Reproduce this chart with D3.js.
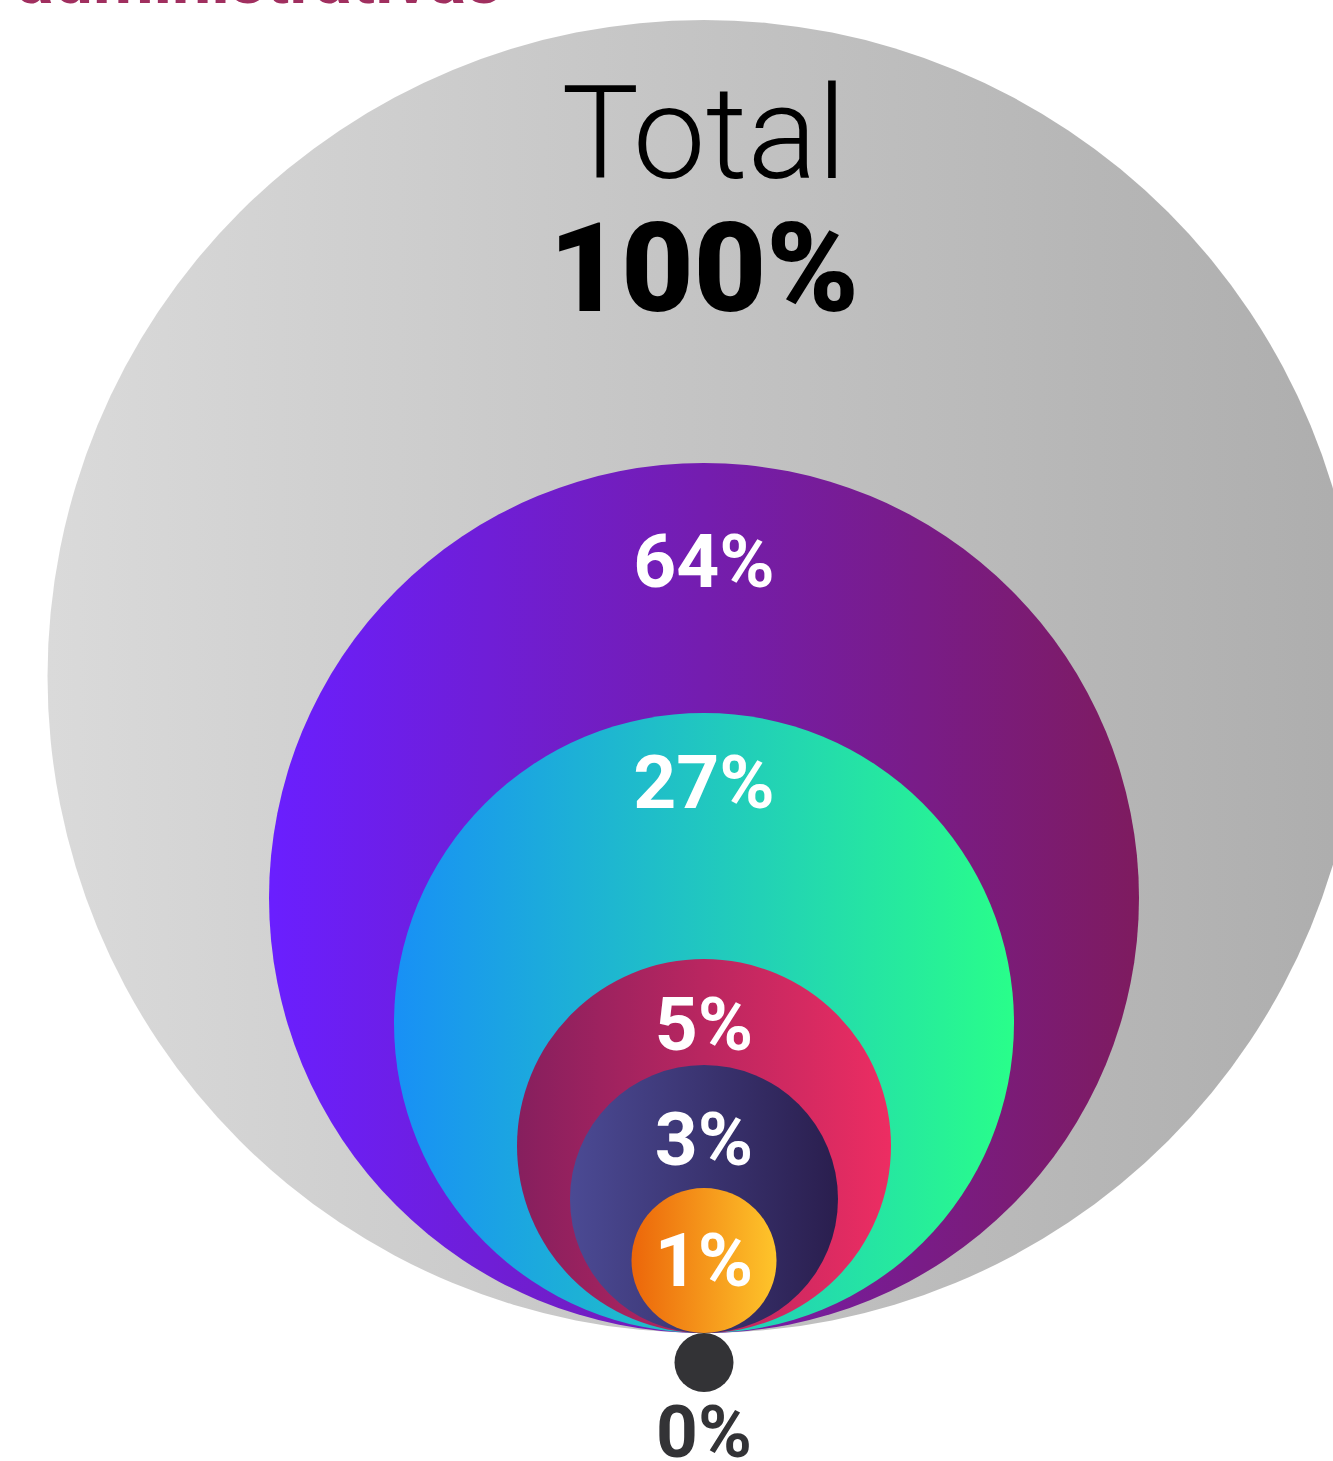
<!DOCTYPE html>
<html>
<head>
<meta charset="utf-8">
<script src="https://cdn.jsdelivr.net/npm/d3@7/dist/d3.min.js"></script>
<style>
  html, body { margin: 0; padding: 0; background: #ffffff; overflow: hidden; }
  svg { display: block; }
  text { font-family: Roboto, "Noto Sans", sans-serif; }
</style>
</head>
<body>
<svg id="chart" width="1333" height="1461"></svg>
<script>
// ---- Data ----
const title = "administrativas";
const categories = ["Total", "Nivel 1", "Nivel 2", "Nivel 3", "Nivel 4", "Nivel 5", "Nivel 6"];
const values = [100, 64, 27, 5, 3, 1, 0];
const labels = ["100%", "64%", "27%", "5%", "3%", "1%", "0%"];
const colorStart = ["#dadada", "#6a1fff", "#1890f6", "#861f5e", "#4b4a94", "#ec660a", "#333336"];
const colorEnd   = ["#adadad", "#7e1b5f", "#29fe8a", "#ed2d62", "#2a1e4e", "#fec52b", "#333336"];

// ---- Layout ----
const svg = d3.select("#chart");
const cx = 704, tangentY = 1333;

// radius scale (piecewise, by value)
const rScale = d3.scaleLinear()
  .domain([0, 1, 3, 5, 27, 64, 100])
  .range([29.5, 72.5, 134, 187, 310, 435, 656.5]);

const defs = svg.append("defs");
values.forEach((v, i) => {
  const r = rScale(v);
  const g = defs.append("linearGradient")
    .attr("id", "grad" + i)
    .attr("gradientUnits", "userSpaceOnUse")
    .attr("x1", cx - r).attr("x2", cx + r)
    .attr("y1", 0).attr("y2", 0);
  g.append("stop").attr("offset", "0%").attr("stop-color", colorStart[i]);
  g.append("stop").attr("offset", "100%").attr("stop-color", colorEnd[i]);
});

// title (cut at top)
svg.append("text")
  .attr("x", 502).attr("y", 3)
  .attr("text-anchor", "end")
  .attr("font-size", 70)
  .attr("font-weight", 700)
  .attr("fill", "#a02f5f")
  .text(title);

const data = values.map((v, i) => ({ v, i, label: labels[i], cat: categories[i] }));

// nested circles (all but zero value) tangent at bottom
const nested = data.filter(d => d.v > 0);
svg.selectAll("circle.nest")
  .data(nested)
  .join("circle")
  .attr("class", "nest")
  .attr("cx", cx)
  .attr("cy", d => tangentY - rScale(d.v))
  .attr("r", d => rScale(d.v))
  .attr("fill", d => `url(#grad${d.i})`);

// zero dot below
const zero = data.filter(d => d.v === 0);
svg.selectAll("circle.zero")
  .data(zero)
  .join("circle")
  .attr("class", "zero")
  .attr("cx", cx)
  .attr("cy", d => tangentY + rScale(d.v))
  .attr("r", d => rScale(d.v))
  .attr("fill", d => colorStart[d.i]);

// labels
const labelOffset = [0, 124, 95, 91, 100, 98];
// total
const total = data[0];
const topT = tangentY - 2 * rScale(total.v);
svg.append("text")
  .attr("x", cx).attr("y", topT + 158)
  .attr("text-anchor", "middle")
  .attr("font-size", 130)
  .attr("font-weight", 300)
  .attr("fill", "#000")
  .text(total.cat);
svg.append("text")
  .attr("x", cx).attr("y", topT + 291)
  .attr("text-anchor", "middle")
  .attr("font-size", 125)
  .attr("font-weight", 900)
  .attr("fill", "#000")
  .text(total.label);

svg.selectAll("text.pct")
  .data(nested.slice(1))
  .join("text")
  .attr("class", "pct")
  .attr("x", cx)
  .attr("y", d => tangentY - 2 * rScale(d.v) + labelOffset[d.i])
  .attr("text-anchor", "middle")
  .attr("font-size", 75)
  .attr("font-weight", 700)
  .attr("fill", "#ffffff")
  .text(d => d.label);

svg.selectAll("text.zlabel")
  .data(zero)
  .join("text")
  .attr("class", "zlabel")
  .attr("x", cx)
  .attr("y", d => tangentY + 2 * rScale(d.v) + 65)
  .attr("text-anchor", "middle")
  .attr("font-size", 73)
  .attr("font-weight", 700)
  .attr("fill", "#333336")
  .text(d => d.label);
</script>
</body>
</html>
